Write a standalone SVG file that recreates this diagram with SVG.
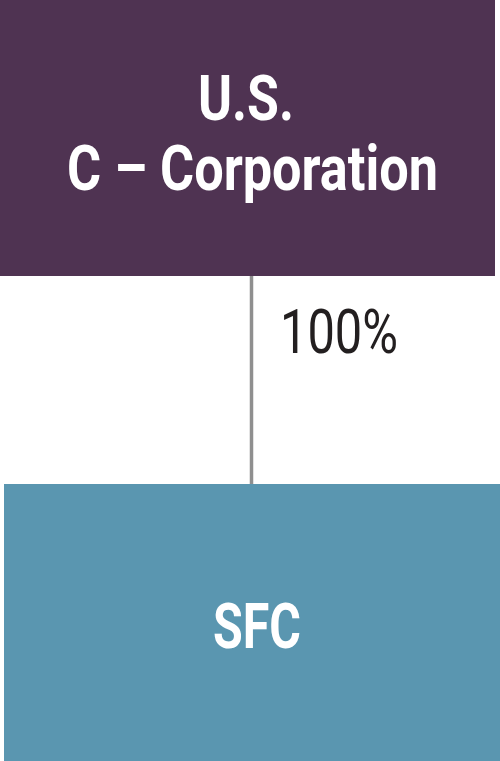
<svg xmlns="http://www.w3.org/2000/svg" width="500" height="761" viewBox="0 0 500 761">
<style>
.t{font-family:Roboto,"Liberation Sans",sans-serif;font-weight:bold;fill:#ffffff;font-size:63px}
.l{font-family:Roboto,"Liberation Sans",sans-serif;fill:#231f20;font-size:62px}
</style>
<rect width="500" height="761" fill="#ffffff"/>
<g id="connectors">
<line x1="251.5" y1="276" x2="251.5" y2="484" stroke="#8f8f8f" stroke-width="3.5"/>
<text class="l" x="280" y="353" textLength="118" lengthAdjust="spacingAndGlyphs">100%</text>
</g>
<g id="corp">
<rect x="0" y="0" width="495" height="276" fill="#4f3352"/>
<text class="t" x="198" y="120" textLength="96" lengthAdjust="spacingAndGlyphs">U.S.</text>
<text class="t" x="67" y="190" textLength="371" lengthAdjust="spacingAndGlyphs">C – Corporation</text>
</g>
<g id="sfc">
<rect x="4" y="484" width="496" height="277" fill="#5a96b0"/>
<text class="t" x="213" y="648" textLength="88" lengthAdjust="spacingAndGlyphs">SFC</text>
</g>
</svg>
